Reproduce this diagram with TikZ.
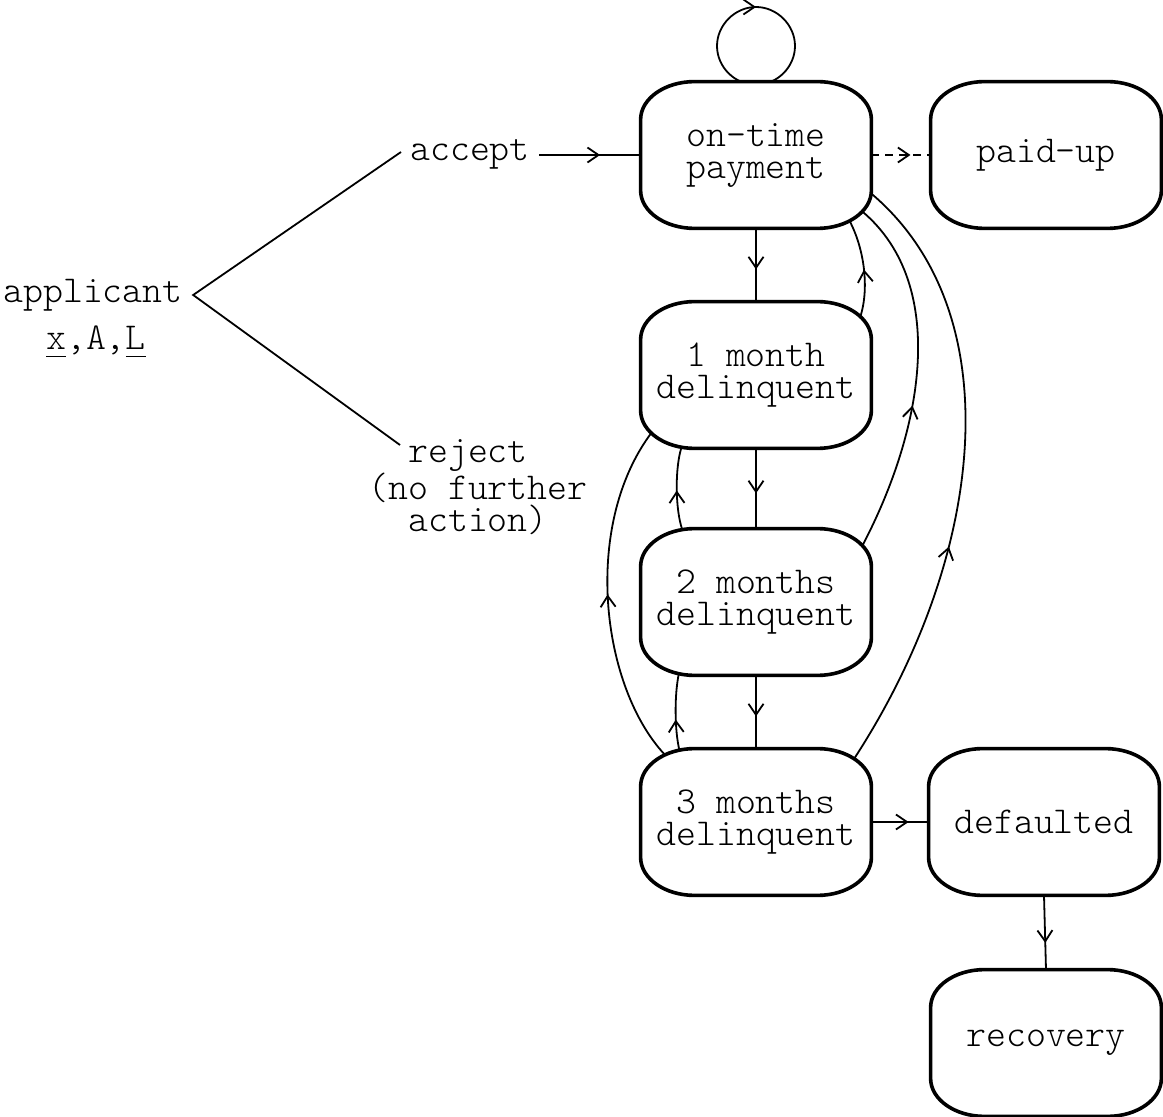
\documentclass[tikz,border=0pt]{standalone}
\usepackage{fontspec}
\setmonofont{lmmonolt10-regular.otf}
\usetikzlibrary{arrows.meta,decorations.markings,backgrounds,calc}
\pgfdeclarelayer{bottom}
\pgfdeclarelayer{boxes}
\pgfsetlayers{bottom,background,boxes,main}

% typewriter-style underline: a rule one character cell wide
\newcommand\undl[1]{\rlap{\rule[-3.6pt]{0.525em}{0.7pt}}#1}

\tikzset{
  state/.style={minimum width=115pt, minimum height=73pt, align=center, inner sep=0pt},
  boxline/.style={draw, line width=1.8pt, fill=white},
  lbl/.style={inner sep=0pt, align=center},
  conn/.style={line width=0.9pt},
  midarrow/.style={postaction={decorate}, decoration={markings,
    mark=at position #1 with {\arrow{Straight Barb[length=5.5pt,width=7.5pt]}}}},
}

\begin{document}
\begin{tikzpicture}[x=0.5pt, y=-0.5pt, font=\ttfamily\fontsize{19pt}{16pt}\selectfont]
\begin{pgfonlayer}{bottom}
  \fill[white] (0,0) rectangle (1163,1117);
\end{pgfonlayer}
\useasboundingbox (0,0) rectangle (1163,1117);

% states
\node[state] (ot) at (756,155)  {on-time\\payment};
\node[state] (pu) at (1046,155) {paid-up};
\node[state] (m1) at (756,375)  {1 month\\delinquent};
\node[state] (m2) at (756,602)  {2 months\\delinquent};
\node[state] (m3) at (756,822)  {3 months\\delinquent};
\node[state] (df) at (1044,822) {defaulted};
\node[state] (rc) at (1046,1043) {recovery};

% state outlines with elliptical corners (27pt wide, 19pt tall)
\begin{pgfonlayer}{boxes}
\foreach \n in {ot,pu,m1,m2,m3,df,rc}{
  \draw[boxline]
    ([xshift=-27pt]\n.north east)
      .. controls ([xshift=-12.1pt]\n.north east) and ([yshift=-8.5pt]\n.north east)
      .. ([yshift=-19pt]\n.north east)
    -- ([yshift=19pt]\n.south east)
      .. controls ([yshift=8.5pt]\n.south east) and ([xshift=-12.1pt]\n.south east)
      .. ([xshift=-27pt]\n.south east)
    -- ([xshift=27pt]\n.south west)
      .. controls ([xshift=12.1pt]\n.south west) and ([yshift=8.5pt]\n.south west)
      .. ([yshift=19pt]\n.south west)
    -- ([yshift=-19pt]\n.north west)
      .. controls ([yshift=-8.5pt]\n.north west) and ([xshift=12.1pt]\n.north west)
      .. ([xshift=27pt]\n.north west)
    -- cycle;
}
\end{pgfonlayer}

% applicant and decision labels
\node[lbl] (app) at (93,295) {applicant};
\node[lbl, anchor=base] (xal) at (96,350) {\undl{x},A,\undl{L}};
\node[lbl, anchor=base, inner xsep=4.5pt] (acc) at (470,161) {accept};
\node[lbl, align=left] (rej) at (478,487)
  {\hphantom{(n}reject\\(no further\\\hphantom{(n}action)};

\coordinate (fork) at ($(app.east)+(10,0)$);
\coordinate (acctip) at (401,152);
\coordinate (rejtip) at (400,445);

% decision fork
\draw[conn] (acctip) -- (fork) -- (rejtip);

% straight transitions
\draw[conn, midarrow=0.6] (acc.east |- ot) -- (ot.west);
\draw[conn, midarrow=0.66, dash pattern=on 4pt off 3pt] (ot.east) -- (pu.west);
\draw[conn, midarrow=0.56] (ot.south) -- (m1.north);
\draw[conn, midarrow=0.56] (m1.south) -- (m2.north);
\draw[conn, midarrow=0.56] (m2.south) -- (m3.north);
\draw[conn, midarrow=0.65] (m3.east) -- (df.west);
\draw[conn, midarrow=0.64] (df.south) -- (rc.north);

% curved transitions, drawn beneath the filled states
\begin{pgfonlayer}{background}
  % self loop on on-time payment
  \draw[conn, midarrow=0.5] ($(ot.north)+(0,3)$)
    .. controls (735,85) and (717,67) .. (717,46)
    .. controls (717,25) and (735,7) .. (756,7)
    .. controls (777,7) and (795,25) .. (795,46)
    .. controls (795,67) and (777,85) .. ($(ot.north)+(0,3)$);
  % back to on-time payment
  \draw[conn, midarrow=0.5] ($(m1)+(102,-52)$)
    .. controls (870,295) and (866,250) .. ($(ot)+(92,63)$);
  \draw[conn, midarrow=0.42] ($(m2)+(103,-50)$)
    .. controls (925,430) and (950,280) .. ($(ot)+(102,53)$);
  \draw[conn, midarrow=0.38] ($(m3)+(96,-60)$)
    .. controls (985,560) and (1015,310) .. ($(ot)+(111,35)$);
  % recoveries by one or two months
  \draw[conn, midarrow=0.48] ($(m2)+(-72,-68)$)
    .. controls (675,515) and (674,465) .. ($(m1)+(-73,68)$);
  \draw[conn, midarrow=0.42] ($(m3)+(-75,-66)$)
    .. controls (674,735) and (674,690) .. ($(m2)+(-76,67)$);
  \draw[conn, midarrow=0.5] ($(m3)+(-88,-64)$)
    .. controls (600,690) and (580,520) .. ($(m1)+(-100,52)$);
\end{pgfonlayer}
\end{tikzpicture}
\end{document}
